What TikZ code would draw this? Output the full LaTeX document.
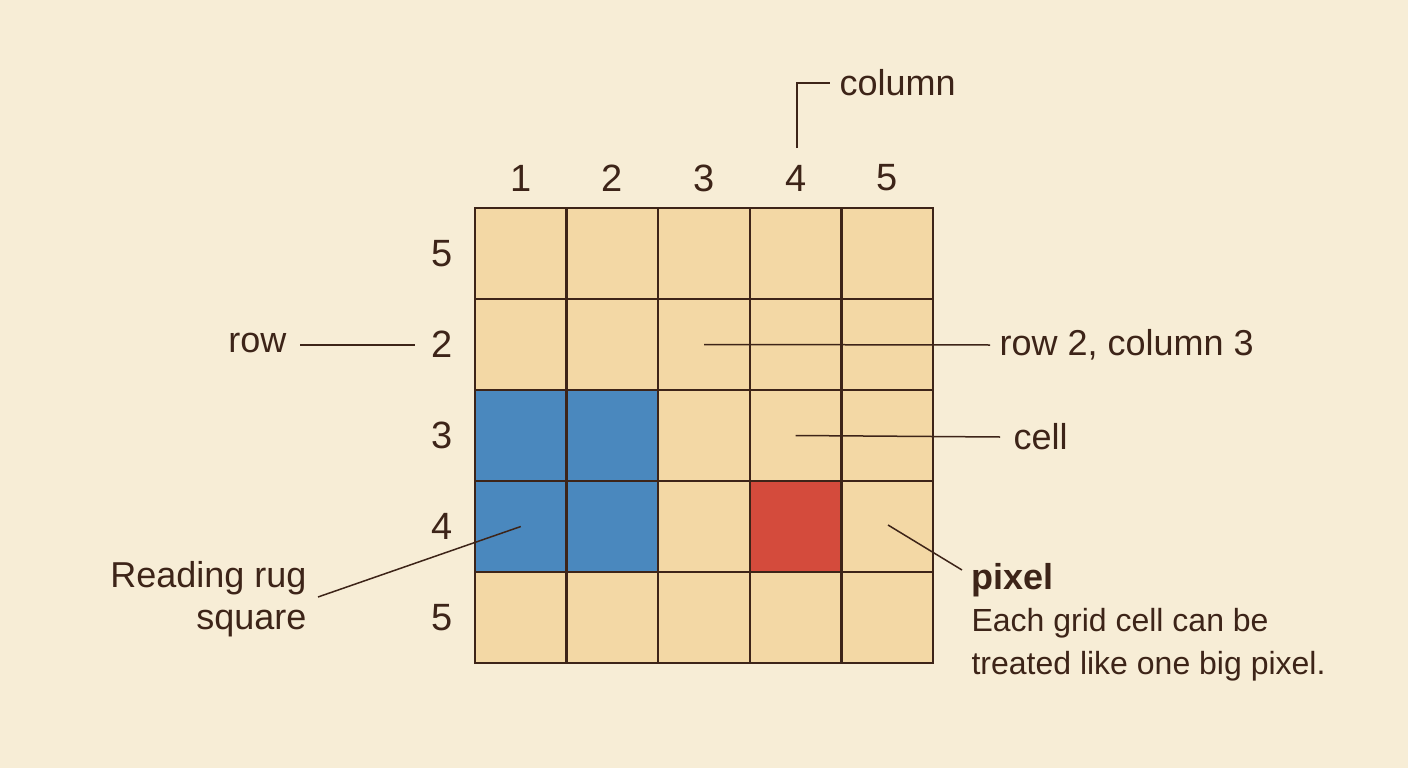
\documentclass[tikz,border=0pt]{standalone}
\usepackage{fontspec}
\setmainfont{Liberation Sans}
\usetikzlibrary{positioning}
\definecolor{bgc}{HTML}{F7EDD6}
\definecolor{cellc}{HTML}{F3D8A5}
\definecolor{ink}{HTML}{3D2418}
\definecolor{rugblue}{HTML}{4A88BE}
\definecolor{pixred}{HTML}{D44B3C}
\tikzset{
    cell/.style = {draw=ink, line width=2.5pt, fill=cellc, minimum width=91.6pt, minimum height=91pt, inner sep=0pt},
    num/.style = {text=ink, font=\fontsize{38}{40}\selectfont},
    lbl/.style = {text=ink, font=\fontsize{36}{42}\selectfont},
    note/.style = {text=ink, font=\fontsize{32}{43}\selectfont, align=left},
    leader/.style = {draw=ink, line width=1.5pt}
}
\begin{document}
\begin{tikzpicture}[x=1pt, y=-1pt]
    \fill[bgc] (0,0) rectangle (1408,768);
    \useasboundingbox (0,0) rectangle (1408,768);

    % grid cells
    \foreach \c in {1,...,5} {
        \foreach \r in {1,...,5} {
            \node (c\c r\r) [cell] at ({475+91.6*(\c-0.5)},{208+91*(\r-0.5)}) {};
        }
    }
    \foreach \c/\r in {1/3,2/3,1/4,2/4} {
        \node [cell, fill=rugblue] at (c\c r\r) {};
    }
    \node [cell, fill=pixred] at (c4r4) {};

    % numbers
    \foreach \c in {1,...,5} {
        \node (col\c) [num] at ({475+91.6*(\c-0.5)},178) {\c};
    }
    \foreach \r/\t in {1/5,2/2,3/3,4/4,5/5} {
        \node (row\r) [num] at (442,{208+91*(\r-0.5)}) {\t};
    }

    % labels
    \node (column) [lbl, anchor=west] at (836,83) {column};
    \coordinate (colbend) at (797,83);
    \draw[leader] (797,148) -- (colbend) -- (830,83);

    \node (row) [lbl, anchor=east] at (290,343) {row};
    \draw[leader] (300,345) -- (415,345);

    \node (rc) [lbl, anchor=west] at (996,345) {row 2, column 3};
    \draw[leader] (c3r2.center) -- (990,345);

    \node (celllbl) [lbl, anchor=west] at (1010,437) {cell};
    \draw[leader] (c4r3.center) -- (1000,437);

    \node (pixel) [lbl, anchor=west, font=\bfseries\fontsize{36}{42}\selectfont] at (968,580) {pixel};
    \node (pixnote) [note, below=4pt of pixel.south west, anchor=north west] {Each grid cell can be\\treated like one big pixel.};
    \draw[leader] (888,525) -- (962,570);

    \node (rug) [lbl, align=right, anchor=east] at (310,599) {Reading rug\\square};
    \draw[leader] (c1r4.center) -- (318,597);
\end{tikzpicture}
\end{document}
